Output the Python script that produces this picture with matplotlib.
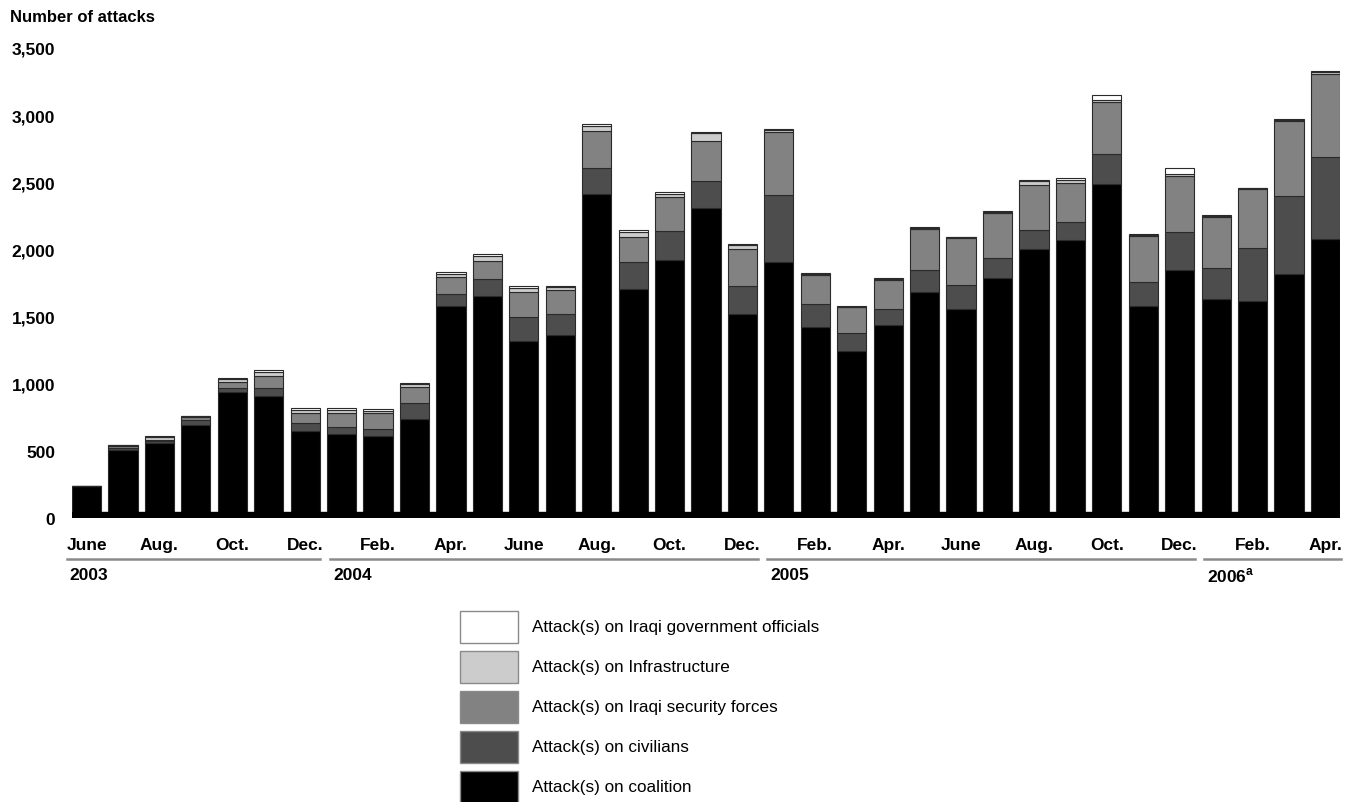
import matplotlib
matplotlib.use("Agg")
import matplotlib.pyplot as plt
from matplotlib.patches import Rectangle
from matplotlib.transforms import blended_transform_factory

plt.rcParams["font.family"] = ["Liberation Sans", "DejaVu Sans"]

# monthly attacks, June 2003 -> April 2006
coalition = [240, 505, 555, 695, 940, 905, 650, 625, 610, 740,
             1580, 1655, 1320, 1360, 2415, 1705, 1920, 2310, 1520, 1910,
             1420, 1245, 1440, 1680, 1555, 1785, 2005, 2070, 2490, 1580,
             1850, 1630, 1615, 1815, 2080]
civilians = [0, 20, 15, 35, 25, 65, 55, 50, 55, 120,
             85, 125, 175, 160, 195, 205, 220, 200, 210, 495,
             175, 135, 115, 170, 180, 150, 140, 135, 220, 175,
             280, 235, 395, 580, 605]
security = [0, 10, 10, 25, 45, 85, 80, 105, 115, 115,
            130, 135, 185, 175, 275, 185, 250, 300, 275, 470,
            215, 190, 215, 300, 350, 335, 335, 290, 390, 345,
            415, 380, 440, 565, 625]
infrastructure = [0, 5, 25, 5, 25, 30, 20, 25, 20, 20,
                  25, 35, 30, 25, 35, 35, 25, 60, 25, 15,
                  10, 5, 10, 10, 5, 10, 30, 20, 15, 10,
                  20, 5, 5, 5, 10]
government = [0, 0, 5, 0, 10, 15, 15, 15, 10, 10,
              15, 15, 20, 10, 15, 15, 10, 5, 10, 5,
              5, 5, 5, 5, 5, 5, 10, 15, 35, 5,
              45, 5, 5, 5, 10]

month_labels = ["June", "Aug.", "Oct.", "Dec.", "Feb.", "Apr.", "June", "Aug.", "Oct.",
                "Dec.", "Feb.", "Apr.", "June", "Aug.", "Oct.", "Dec.", "Feb.", "Apr."]
year_labels = ["2003", "2004", "2005", r"2006$^{\mathregular{a}}$"]
year_spans = [(0, 6), (7, 18), (19, 30), (31, 34)]   # bar index ranges per year

y_ticks = [0, 500, 1000, 1500, 2000, 2500, 3000, 3500]

series = [
    ("Attack(s) on coalition", coalition, "#000000"),
    ("Attack(s) on civilians", civilians, "#4d4d4d"),
    ("Attack(s) on Iraqi security forces", security, "#828282"),
    ("Attack(s) on Infrastructure", infrastructure, "#cccccc"),
    ("Attack(s) on Iraqi government officials", government, "#ffffff"),
]

W, H = 1351, 803
fig = plt.figure(figsize=(W / 100, H / 100), dpi=100)
fig.patch.set_facecolor("white")
ax = fig.add_axes([72 / W, 1 - 519 / H, (1340 - 72) / W, (519 - 49) / H])

n = len(coalition)
x = list(range(n))
bottom = [0] * n
for label, vals, color in series:
    ax.bar(x, vals, width=0.8, bottom=bottom, color=color,
           edgecolor="#2a2a2a", linewidth=0.8, label=label)
    bottom = [b + v for b, v in zip(bottom, vals)]

# black strip joining the bars at the base
ax.axhspan(-8, 45, color="black", zorder=3)

ax.set_xlim(-0.4, n - 0.6)
ax.set_ylim(0, 3500)
for s in ax.spines.values():
    s.set_visible(False)
ax.set_yticks(y_ticks)
ax.set_yticklabels([f"{v:,}" for v in y_ticks], fontsize=12.5, fontweight="bold")
ax.tick_params(axis="y", length=0, pad=12)
ax.set_xticks([])

fig.text(10 / W, 1 - 18 / H, "Number of attacks", fontsize=12,
         fontweight="bold", va="center", ha="left")

tr = blended_transform_factory(ax.transData, ax.transAxes)
for i, lab in zip(range(0, n, 2), month_labels):
    ax.text(i, -0.056, lab, transform=tr, ha="center", va="center",
            fontsize=12.5, fontweight="bold", clip_on=False)

# year underlines with a small gap between years
for (a, b), lab in zip(year_spans, year_labels):
    x0, x1 = a - 0.32, b + 0.42
    if a == 0:
        x0 = -0.55
    ax.plot([x0, x1], [-0.088, -0.088], transform=tr, color="#8a8a8a",
            lw=1.8, clip_on=False)
    ax.text(x0 + 0.08, -0.121, lab, transform=tr, ha="left", va="center",
            fontsize=12.5, fontweight="bold", clip_on=False)

# legend, drawn by hand (top entry first)
leg_top = 612
for k, (label, vals, color) in enumerate(reversed(series)):
    y0 = leg_top + k * 40
    fig.add_artist(Rectangle((460 / W, 1 - (y0 + 32) / H), 58 / W, 32 / H,
                             transform=fig.transFigure, facecolor=color,
                             edgecolor="#8a8a8a", linewidth=1.0))
    fig.text(532 / W, 1 - (y0 + 16) / H, label, fontsize=12.3,
             va="center", ha="left")

fig.savefig("out.png", dpi=100, facecolor="white")
